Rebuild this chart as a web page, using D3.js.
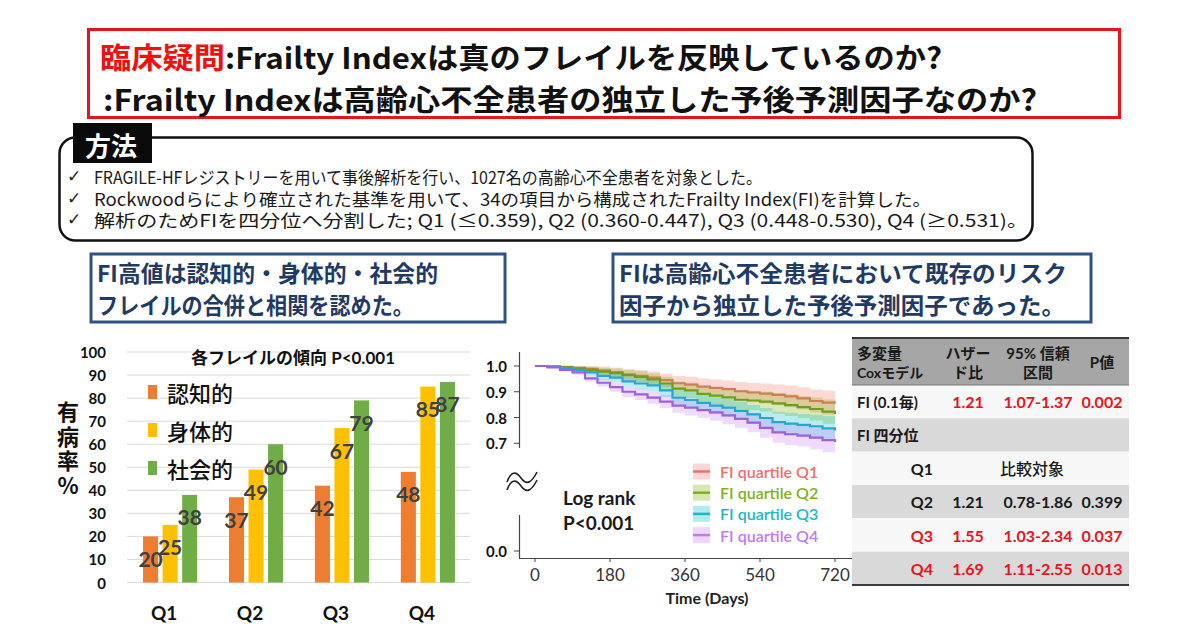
<!DOCTYPE html>
<html><head><meta charset="utf-8">
<script src="https://cdn.jsdelivr.net/npm/d3@7"></script>
<style>body{margin:0;background:#fff}svg{display:block}</style>
</head><body>
<svg id="c" width="1193" height="634"></svg>
<script>
// ---------------- data ----------------
const titleRed = "臨床疑問";
const titleLine1 = ":Frailty Indexは真のフレイルを反映しているのか?";
const titleLine2 = ":Frailty Indexは高齢心不全患者の独立した予後予測因子なのか?";
const methodLabel = "方法";
const methodLines = [
  "FRAGILE-HFレジストリーを用いて事後解析を行い、1027名の高齢心不全患者を対象とした。",
  "Rockwoodらにより確立された基準を用いて、34の項目から構成されたFrailty Index(FI)を計算した。",
  "解析のためFIを四分位へ分割した; Q1 (≤0.359), Q2 (0.360-0.447), Q3 (0.448-0.530), Q4 (≥0.531)。"
];
const leftMsg = ["FI高値は認知的・身体的・社会的", "フレイルの合併と相関を認めた。"];
const rightMsg = ["FIは高齢心不全患者において既存のリスク", "因子から独立した予後予測因子であった。"];

const barCategories = ["Q1", "Q2", "Q3", "Q4"];
const barSeries = ["認知的", "身体的", "社会的"];
const cognitive = [20, 37, 42, 48];
const physical = [25, 49, 67, 85];
const social = [38, 60, 79, 87];
const barYTicks = [0, 10, 20, 30, 40, 50, 60, 70, 80, 90, 100];
const barTitle = "各フレイルの傾向 P<0.001";
const barYTitle = "有病率%";

const kmDays = [0,30,60,90,120,150,180,210,240,270,300,330,360,390,420,450,480,510,540,570,600,630,660,690,720];
const kmQ1 = [1,.999,.997,.993,.989,.983,.976,.968,.962,.955,.945,.933,.928,.920,.915,.910,.902,.897,.893,.888,.882,.874,.864,.858,.855];
const kmQ2 = [1,.998,.995,.990,.985,.978,.972,.964,.958,.948,.932,.912,.905,.892,.885,.878,.869,.866,.862,.855,.848,.840,.833,.823,.814];
const kmQ3 = [1,.997,.992,.985,.975,.962,.955,.940,.932,.925,.905,.877,.868,.857,.846,.838,.826,.812,.798,.782,.776,.771,.766,.758,.750];
const kmQ4 = [1,.995,.985,.975,.952,.935,.918,.900,.890,.877,.862,.846,.838,.829,.820,.808,.795,.780,.760,.742,.735,.730,.722,.712,.705];
const kmCiHalf = [0,.003,.006,.009,.012,.015,.018,.020,.022,.024,.026,.028,.030,.031,.033,.034,.036,.037,.039,.040,.042,.043,.045,.047,.048];
const kmLegend = ["FI quartile Q1", "FI quartile Q2", "FI quartile Q3", "FI quartile Q4"];
const kmXTicks = [0, 180, 360, 540, 720];
const kmYTicks = [0, 0.7, 0.8, 0.9, 1.0];
const kmXTitle = "Time (Days)";
const kmNote = ["Log rank", "P<0.001"];

const tableHeader = [["多変量", "Coxモデル"], ["ハザー", "ド比"], ["95% 信頼", "区間"], ["P値"]];
const tableLabels = ["FI (0.1毎)", "FI 四分位", "Q1", "Q2", "Q3", "Q4"];
const tableHR = ["1.21", "", "", "1.21", "1.55", "1.69"];
const tableCI = ["1.07-1.37", "", "比較対象", "0.78-1.86", "1.03-2.34", "1.11-2.55"];
const tableP = ["0.002", "", "", "0.399", "0.037", "0.013"];

// ---------------- drawing ----------------
const svg = d3.select("#c");
const JP = "'Noto Sans CJK JP', sans-serif";
const LAT = "Lato, 'Noto Sans CJK JP', sans-serif";

svg.append("rect").attr("width", 1193).attr("height", 634).attr("fill", "#fff");

// Title box
svg.append("rect").attr("x", 88.5).attr("y", 29.5).attr("width", 1031).attr("height", 88)
  .attr("fill", "#fff").attr("stroke", "#e8141b").attr("stroke-width", 3);
const t1 = svg.append("text").attr("x", 100).attr("y", 56).attr("dominant-baseline", "central")
  .attr("font-family", JP).attr("font-weight", 700).attr("font-size", 29)
  .attr("textLength", 842).attr("lengthAdjust", "spacingAndGlyphs");
t1.append("tspan").attr("fill", "#f01010").text(titleRed);
t1.append("tspan").attr("fill", "#111").text(titleLine1);
svg.append("text").attr("x", 103).attr("y", 98).attr("dominant-baseline", "central")
  .attr("font-family", JP).attr("font-weight", 700).attr("font-size", 29).attr("fill", "#111")
  .attr("textLength", 934).attr("lengthAdjust", "spacingAndGlyphs").text(titleLine2);

// Method box
svg.append("rect").attr("x", 59.5).attr("y", 137.5).attr("width", 973).attr("height", 103).attr("rx", 16)
  .attr("fill", "#fff").attr("stroke", "#111").attr("stroke-width", 2.5);
svg.append("rect").attr("x", 73).attr("y", 123).attr("width", 79).attr("height", 40).attr("fill", "#0a0a0a");
svg.append("text").attr("x", 111).attr("y", 144).attr("text-anchor", "middle").attr("dominant-baseline", "central")
  .attr("font-family", JP).attr("font-weight", 700).attr("font-size", 26).attr("fill", "#fff").text(methodLabel);
const methodEnds = [762, 931, 1028];
const methodY = [176, 198, 219];
methodLines.forEach((s, i) => {
  svg.append("text").attr("x", 67).attr("y", methodY[i]).attr("dominant-baseline", "central")
    .attr("font-family", "'DejaVu Sans', sans-serif").attr("font-size", 17).attr("fill", "#222").text("✓");
  svg.append("text").attr("x", 94).attr("y", methodY[i]).attr("dominant-baseline", "central")
    .attr("font-family", JP).attr("font-size", 17.5).attr("fill", "#1a1a1a")
    .attr("textLength", methodEnds[i] - 94).attr("lengthAdjust", "spacingAndGlyphs").text(s);
});

// Blue message boxes
function msgBox(x0, x1, lines, ends) {
  svg.append("rect").attr("x", x0).attr("y", 254).attr("width", x1 - x0).attr("height", 68)
    .attr("fill", "#fff").attr("stroke", "#2f5283").attr("stroke-width", 3);
  lines.forEach((s, i) => {
    svg.append("text").attr("x", x0 + 6).attr("y", [272, 304][i]).attr("dominant-baseline", "central")
      .attr("font-family", JP).attr("font-weight", 700).attr("font-size", 23).attr("fill", "#1f3a63")
      .attr("textLength", ends[i] - x0 - 6).attr("lengthAdjust", "spacingAndGlyphs").text(s);
  });
}
msgBox(91, 505, leftMsg, [438, 414]);
msgBox(613, 1091, rightMsg, [1067, 1065]);

// ---------------- Bar chart ----------------
const barColors = ["#ED7D31", "#FFC000", "#70AD47"];
const barValues = [cognitive, physical, social];
const bx0 = d3.scaleBand().domain(barCategories).range([127.5, 470.5]).paddingInner(0.37).paddingOuter(0.181);
const bx1 = d3.scaleBand().domain(barSeries).range([0, bx0.bandwidth()]).paddingInner(0.23);
const by = d3.scaleLinear().domain([0, 100]).range([582.5, 352]);
const bg = svg.append("g");
bg.selectAll("line.grid").data(barYTicks).join("line")
  .attr("x1", 127).attr("x2", 470).attr("y1", d => by(d)).attr("y2", d => by(d))
  .attr("stroke", "#d9d9d9").attr("stroke-width", 1);
bg.selectAll("text.yt").data(barYTicks).join("text")
  .attr("x", 106).attr("y", d => by(d)).attr("text-anchor", "end").attr("dominant-baseline", "central")
  .attr("font-family", LAT).attr("font-weight", 700).attr("font-size", 15).attr("fill", "#111").text(d => d);
barCategories.forEach((c, ci) => {
  barSeries.forEach((s, si) => {
    const v = barValues[si][ci];
    const x = bx0(c) + bx1(s);
    bg.append("rect").attr("x", x).attr("y", by(v)).attr("width", bx1.bandwidth())
      .attr("height", by(0) - by(v)).attr("fill", barColors[si]);
  });
});
barCategories.forEach((c, ci) => {
  barSeries.forEach((s, si) => {
    const v = barValues[si][ci];
    const x = bx0(c) + bx1(s) + bx1.bandwidth() / 2;
    bg.append("text").attr("x", x).attr("y", by(v) + 22).attr("text-anchor", "middle")
      .attr("dominant-baseline", "central").attr("font-family", LAT).attr("font-weight", 700)
      .attr("font-size", 21).attr("fill", "#404040").text(v);
  });
});
bg.selectAll("text.xc").data(barCategories).join("text")
  .attr("x", d => bx0(d) + bx0.bandwidth() / 2 - 6).attr("y", 612).attr("text-anchor", "middle")
  .attr("dominant-baseline", "central").attr("font-family", LAT).attr("font-weight", 700)
  .attr("font-size", 19).attr("fill", "#111").text(d => d);
bg.append("text").attr("x", 293).attr("y", 357).attr("text-anchor", "middle").attr("dominant-baseline", "central")
  .attr("font-family", LAT).attr("font-weight", 700).attr("font-size", 17).attr("fill", "#111").text(barTitle);
barSeries.forEach((s, i) => {
  const yy = 392 + i * 38;
  bg.append("rect").attr("x", 148).attr("y", yy - 7).attr("width", 9).attr("height", 14).attr("fill", barColors[i]);
  bg.append("text").attr("x", 167).attr("y", yy).attr("dominant-baseline", "central")
    .attr("font-family", JP).attr("font-weight", 500).attr("font-size", 22).attr("fill", "#111").text(s);
});
bg.append("text").attr("x", 68).attr("y", 401)
  .attr("style", "writing-mode: vertical-rl; text-orientation: upright; letter-spacing: 2.5px;")
  .attr("font-family", JP).attr("font-weight", 700).attr("font-size", 22).attr("fill", "#111").text(barYTitle);

// ---------------- KM plot ----------------
const kx = d3.scaleLinear().domain([0, 720]).range([535, 835]);
const ky = d3.scaleLinear().domain([0, 0.6, 1.0]).range([551, 469, 366]);
const kg = svg.append("g");
const kmSeries = [kmQ1, kmQ2, kmQ3, kmQ4];
const bandColors = ["#F8766D", "#7CAE00", "#00BFC4", "#C77CFF"];
const lineColors = ["#cf7f55", "#6c9f1c", "#2aa3cf", "#9a62dc"];
const textColors = ["#ee6f6f", "#7fb01a", "#1fb6c6", "#c17af2"];
const area = d3.area().curve(d3.curveStepAfter)
  .x((d, i) => kx(kmDays[i]))
  .y0((d, i) => ky(d - kmCiHalf[i]))
  .y1((d, i) => ky(Math.min(1, d + kmCiHalf[i])));
const line = d3.line().curve(d3.curveStepAfter).x((d, i) => kx(kmDays[i])).y(d => ky(d));
kmSeries.forEach((s, i) => {
  kg.append("path").attr("d", area(s)).attr("fill", bandColors[i]).attr("fill-opacity", 0.28);
});
kmSeries.forEach((s, i) => {
  kg.append("path").attr("d", line(s)).attr("fill", "none").attr("stroke", lineColors[i]).attr("stroke-width", 2.2);
});
// axes
kg.append("line").attr("x1", 519.5).attr("x2", 519.5).attr("y1", 352).attr("y2", 448).attr("stroke", "#444").attr("stroke-width", 1.2);
kg.append("line").attr("x1", 519.5).attr("x2", 519.5).attr("y1", 515).attr("y2", 558).attr("stroke", "#444").attr("stroke-width", 1.2);
kg.append("line").attr("x1", 519).attr("x2", 852).attr("y1", 558.5).attr("y2", 558.5).attr("stroke", "#444").attr("stroke-width", 1.2);
kmYTicks.forEach(t => {
  kg.append("line").attr("x1", 514).attr("x2", 519.5).attr("y1", ky(t)).attr("y2", ky(t)).attr("stroke", "#444");
  kg.append("text").attr("x", 507).attr("y", ky(t)).attr("text-anchor", "end").attr("dominant-baseline", "central")
    .attr("font-family", LAT).attr("font-weight", 700).attr("font-size", 15).attr("fill", "#111").text(t.toFixed(1));
});
kmXTicks.forEach(t => {
  kg.append("line").attr("x1", kx(t)).attr("x2", kx(t)).attr("y1", 558.5).attr("y2", 562).attr("stroke", "#444");
  kg.append("text").attr("x", kx(t)).attr("y", 574).attr("text-anchor", "middle").attr("dominant-baseline", "central")
    .attr("font-family", LAT).attr("font-size", 17).attr("fill", "#333").text(t);
});
kg.append("text").attr("x", 707).attr("y", 597).attr("text-anchor", "middle").attr("dominant-baseline", "central")
  .attr("font-family", LAT).attr("font-weight", 700).attr("font-size", 16).attr("fill", "#222").text(kmXTitle);
// break symbol
[0, 8].forEach(dy => {
  kg.append("path").attr("d", `M507,${482 + dy} C511,${471 + dy} 516,${471 + dy} 521,${478 + dy} S531,${484 + dy} 537,${472 + dy}`)
    .attr("fill", "none").attr("stroke", "#222").attr("stroke-width", 1.6);
});
kmNote.forEach((s, i) => {
  kg.append("text").attr("x", 563).attr("y", 497 + i * 25).attr("dominant-baseline", "central")
    .attr("font-family", LAT).attr("font-weight", 700).attr("font-size", 19).attr("fill", "#1a1a1a").text(s);
});
kmLegend.forEach((s, i) => {
  const yy = 471.5 + i * 21.2;
  kg.append("rect").attr("x", 693).attr("y", yy - 8).attr("width", 17).attr("height", 16)
    .attr("fill", bandColors[i]).attr("fill-opacity", 0.3);
  kg.append("line").attr("x1", 693).attr("x2", 710).attr("y1", yy).attr("y2", yy)
    .attr("stroke", textColors[i]).attr("stroke-width", 2.5);
  kg.append("text").attr("x", 720).attr("y", yy).attr("dominant-baseline", "central")
    .attr("font-family", LAT).attr("font-weight", 600).attr("font-size", 16).attr("fill", textColors[i]).text(s);
});

// ---------------- Table ----------------
const tg = svg.append("g");
const tX0 = 852, tX1 = 1129, tTop = 338, tHeadBottom = 385, tBottom = 585;
const rowY = d3.scaleBand().domain(d3.range(tableLabels.length)).range([tHeadBottom, tBottom]);
tg.append("rect").attr("x", tX0).attr("y", tTop).attr("width", tX1 - tX0).attr("height", tHeadBottom - tTop).attr("fill", "#a6a6a6");
tableLabels.forEach((l, i) => {
  tg.append("rect").attr("x", tX0).attr("y", rowY(i)).attr("width", tX1 - tX0).attr("height", rowY.bandwidth())
    .attr("fill", i % 2 === 0 ? "#f7f7f7" : "#d9d9d9");
});
tg.append("line").attr("x1", tX0).attr("x2", tX1).attr("y1", tTop).attr("y2", tTop).attr("stroke", "#3a3a3a").attr("stroke-width", 2);
tg.append("line").attr("x1", tX0).attr("x2", tX1).attr("y1", tHeadBottom).attr("y2", tHeadBottom).attr("stroke", "#777").attr("stroke-width", 1);
tg.append("line").attr("x1", tX0).attr("x2", tX1).attr("y1", tBottom).attr("y2", tBottom).attr("stroke", "#3a3a3a").attr("stroke-width", 2);
const colX = [857, 968, 1038, 1102];
tableHeader.forEach((h, ci) => {
  h.forEach((s, li) => {
    const yy = h.length === 1 ? 362 : (li === 0 ? 353 : 372);
    tg.append("text").attr("x", colX[ci]).attr("y", yy).attr("text-anchor", ci === 0 ? "start" : "middle")
      .attr("dominant-baseline", "central").attr("font-family", LAT).attr("font-weight", 700)
      .attr("font-size", ci === 0 && li === 1 ? 14 : 15).attr("fill", "#1a1a1a").text(s);
  });
});
tableLabels.forEach((l, i) => {
  const yy = rowY(i) + rowY.bandwidth() / 2;
  const p = parseFloat(tableP[i]);
  const sig = !isNaN(p) && p < 0.05;
  const col = sig ? "#e8141b" : "#1a1a1a";
  const isQ = l.startsWith("Q");
  tg.append("text").attr("x", isQ ? 933 : 857).attr("y", yy).attr("text-anchor", isQ ? "end" : "start")
    .attr("dominant-baseline", "central").attr("font-family", LAT).attr("font-weight", 700)
    .attr("font-size", isQ ? 16 : 15).attr("fill", (isQ && sig) ? col : "#1a1a1a").text(l);
  [tableHR[i], tableCI[i], tableP[i]].forEach((v, k) => {
    if (!v) return;
    const merged = v === "比較対象";
    tg.append("text").attr("x", merged ? 1032 : colX[k + 1]).attr("y", yy).attr("text-anchor", "middle")
      .attr("dominant-baseline", "central").attr("font-family", merged ? JP : LAT)
      .attr("font-weight", merged ? 500 : 700).attr("font-size", 16).attr("fill", col).text(v);
  });
});
</script>
</body></html>
